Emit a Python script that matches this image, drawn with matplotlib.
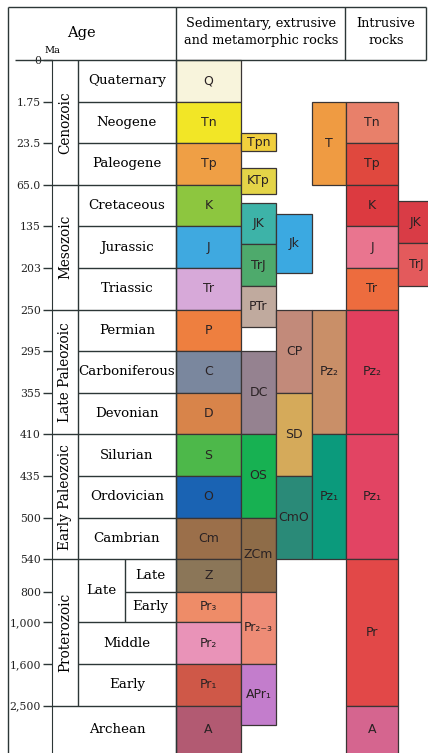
import matplotlib.pyplot as plt

plt.rcParams['font.family'] = ['DejaVu Serif']

# time scale (Ma) and the row where each boundary sits in the table
ages = ["0", "1.75", "23.5", "65.0", "135", "203", "250", "295", "355",
        "410", "435", "500", "540", "800", "1,000", "1,600", "2,500"]
age_rows = [0, 1, 2, 3, 4, 5, 6, 7, 8, 9, 10, 11, 12, 12.78, 13.52, 14.52, 15.52]
bottom_row = 16.7

periods = ["Quaternary", "Neogene", "Paleogene", "Cretaceous", "Jurassic", "Triassic",
           "Permian", "Carboniferous", "Devonian", "Silurian", "Ordovician", "Cambrian"]
eras = ["Cenozoic", "Mesozoic", "Late Paleozoic", "Early Paleozoic", "Proterozoic"]
era_top = [0, 3, 6, 9, 12]
era_bot = [3, 6, 9, 12, 15.52]

# sedimentary, extrusive and metamorphic rocks
sed1_units = ["Q", "Tn", "Tp", "K", "J", "Tr", "P", "C", "D", "S", "O", "Cm",
              "Z", "Pr₃", "Pr₂", "Pr₁", "A"]
sed1_top = age_rows
sed1_bot = age_rows[1:] + [bottom_row]

sed2_units = ["Tpn", "KTp", "JK", "TrJ", "PTr", "DC", "OS", "ZCm", "Pr₂₋₃", "APr₁"]
sed2_top = [1.75, 2.59, 3.45, 4.43, 5.43, 7, 9, 11, 12.78, 14.52]
sed2_bot = [2.2, 3.22, 4.43, 5.43, 6.43, 9, 11, 12.78, 14.52, 15.99]

sed3_units = ["Jk", "CP", "SD", "CmO"]
sed3_top = [3.71, 6, 8, 10]
sed3_bot = [5.11, 8, 10, 12]

sed4_units = ["T", "Pz₂", "Pz₁"]
sed4_top = [1, 6, 9]
sed4_bot = [3, 9, 12]

# intrusive rocks
intr1_units = ["Tn", "Tp", "K", "J", "Tr", "Pz₂", "Pz₁", "Pr", "A"]
intr1_top = [1, 2, 3, 4, 5, 6, 9, 12, 15.52]
intr1_bot = [2, 3, 4, 5, 6, 9, 12, 15.52, bottom_row]

intr2_units = ["JK", "TrJ"]
intr2_top = [3.4, 4.4]
intr2_bot = [4.4, 5.43]

sed1_colors = ["#f8f4dc", "#f2e626", "#ef9f45", "#8dc63f", "#3fa9e0", "#d7a9d9",
               "#ee7f3f", "#7a879e", "#d8844a", "#4db84a", "#1a63b3", "#9b6f4a",
               "#8b7658", "#ee8c68", "#e993b8", "#cf5848", "#b25a72"]
sed2_colors = ["#f1cf3d", "#e4d448", "#3db3a8", "#4eaa6c", "#c0aa9e", "#958290",
               "#17b152", "#8e6c48", "#ee8c76", "#c37dcc"]
sed3_colors = ["#3ba9e1", "#c28a7a", "#d5aa5a", "#2a8a78"]
sed4_colors = ["#ef9b42", "#c98f68", "#0b9a7c"]
intr1_colors = ["#e8806a", "#e0483e", "#dc3a40", "#e9758f", "#ed6c3e", "#e23f5e",
                "#e24463", "#e24848", "#d5658f"]
intr2_colors = ["#d93c46", "#e35a5c"]

LINE = "#2c3636"
EDGE = "#3a3535"


def draw_column(ax, x0, x1, labels, tops, bots, colors):
    heights = [b - t for t, b in zip(tops, bots)]
    xc = (x0 + x1) / 2
    ax.bar([xc] * len(labels), heights, bottom=tops, width=x1 - x0,
           color=colors, edgecolor=EDGE, linewidth=0.9, zorder=2)
    for lab, t, b in zip(labels, tops, bots):
        yc = (t + min(b, 16.66)) / 2
        ax.text(xc, yc, lab, ha="center", va="center", fontsize=9,
                family="DejaVu Sans", color="#2a2224", zorder=3)


fig = plt.figure(figsize=(4.28, 7.53), dpi=100)
ax = fig.add_axes([0, 0, 1, 1])
ax.set_xlim(0, 428)
ax.set_ylim(16.66, -1.442)

# rock columns
draw_column(ax, 176, 241, sed1_units, sed1_top, sed1_bot, sed1_colors)
draw_column(ax, 241, 276, sed2_units, sed2_top, sed2_bot, sed2_colors)
draw_column(ax, 276, 312, sed3_units, sed3_top, sed3_bot, sed3_colors)
draw_column(ax, 312, 346, sed4_units, sed4_top, sed4_bot, sed4_colors)
draw_column(ax, 346, 398, intr1_units, intr1_top, intr1_bot, intr1_colors)
draw_column(ax, 398, 434, intr2_units, intr2_top, intr2_bot, intr2_colors)

# table frame
hdr_top = -1.27
ax.vlines(8, hdr_top, bottom_row, color=LINE, lw=1.0)
ax.hlines(hdr_top, 8, 426, color=LINE, lw=1.0)
ax.hlines(0, 15, 426, color=LINE, lw=1.0)
ax.vlines(426, hdr_top, 0, color=LINE, lw=1.0)
ax.vlines(345.5, hdr_top, 0, color=LINE, lw=1.0)
ax.vlines(176, hdr_top, bottom_row, color=LINE, lw=1.0, zorder=4)
ax.vlines(78, 0, 15.52, color=LINE, lw=1.0)
ax.vlines(125, 12, 13.52, color=LINE, lw=1.0)
for r in age_rows[1:]:
    if r in era_bot or r == 12:
        x0 = 52
    elif r == 12.78:
        x0 = 125
    else:
        x0 = 78
    ax.hlines(r, x0, 176, color=LINE, lw=1.0)

# age axis on the era column line
ax.set_xticks([])
ax.set_yticks(age_rows, ages)
for s in ["top", "right", "bottom"]:
    ax.spines[s].set_visible(False)
ax.spines["left"].set_position(("data", 52))
ax.spines["left"].set_bounds(0, bottom_row)
ax.spines["left"].set_color(LINE)
ax.tick_params(axis="y", length=6.5, width=1.0, pad=1.5, labelsize=7.8,
               color=LINE, labelcolor="#222222")
ax.get_yticklabels()[0].set_bbox(dict(facecolor="white", edgecolor="none", pad=0.8))

# headers
ax.text(81, -0.65, "Age", ha="center", va="center", fontsize=10.5)
ax.text(52, -0.24, "Ma", ha="center", va="center", fontsize=7)
ax.text(261, -0.67, "Sedimentary, extrusive\nand metamorphic rocks", ha="center",
        va="center", fontsize=9.3, linespacing=1.4)
ax.text(386, -0.67, "Intrusive\nrocks", ha="center", va="center", fontsize=9.3,
        linespacing=1.4)

# eras (rotated) and periods
for name, t, b in zip(eras, era_top, era_bot):
    ax.text(65, (t + b) / 2, name, ha="center", va="center", rotation=90, fontsize=9.8)
for i, name in enumerate(periods):
    ax.text(127, i + 0.5, name, ha="center", va="center", fontsize=9.6)
ax.text(101, (12 + 13.52) / 2, "Late", ha="center", va="center", fontsize=9.6)
ax.text(150, (12 + 12.78) / 2, "Late", ha="center", va="center", fontsize=9.6)
ax.text(150, (12.78 + 13.52) / 2, "Early", ha="center", va="center", fontsize=9.6)
ax.text(127, (13.52 + 14.52) / 2, "Middle", ha="center", va="center", fontsize=9.6)
ax.text(127, (14.52 + 15.52) / 2, "Early", ha="center", va="center", fontsize=9.6)
ax.text(117, (15.52 + 16.66) / 2, "Archean", ha="center", va="center", fontsize=9.6)

fig.savefig("out.png", dpi=100)
